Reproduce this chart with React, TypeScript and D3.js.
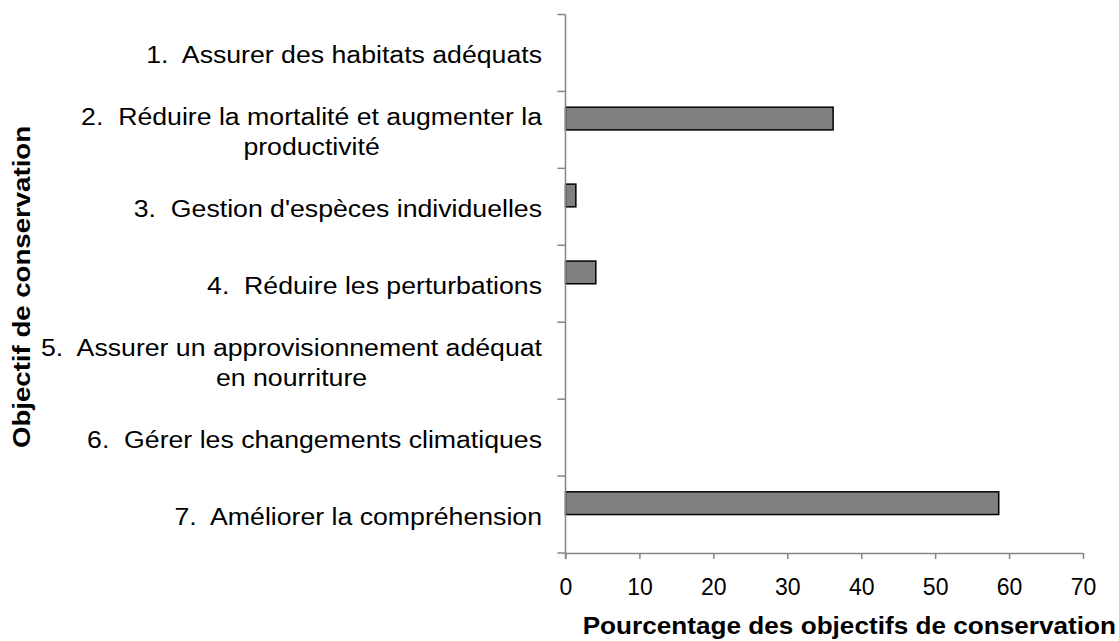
import { useEffect, useRef } from "react";
import * as d3 from "d3";

// objectives (each entry = wrapped lines of the label)
const categories: string[][] = [
  ["1.  Assurer des habitats adéquats"],
  ["2.  Réduire la mortalité et augmenter la", "productivité"],
  ["3.  Gestion d'espèces individuelles"],
  ["4.  Réduire les perturbations"],
  ["5.  Assurer un approvisionnement adéquat", "en nourriture"],
  ["6.  Gérer les changements climatiques"],
  ["7.  Améliorer la compréhension"],
];
const values = [0, 36.2, 1.4, 4.1, 0, 0, 58.6];
const xTicks = [0, 10, 20, 30, 40, 50, 60, 70];

const W = 1119;
const H = 641;
const FONT = "'Liberation Sans', Arial, sans-serif";

export default function App() {
  const ref = useRef<SVGSVGElement>(null);

  useEffect(() => {
    const svg = d3.select(ref.current);
    svg.selectAll("*").remove();

    const left = 565.5;
    const right = 1083;
    const top = 14.5;
    const bottom = 553;

    const x = d3.scaleLinear().domain([0, 70]).range([left, right]);
    const y = d3
      .scaleBand<number>()
      .domain(d3.range(categories.length))
      .range([top, bottom])
      .padding(0);
    const bw = y.bandwidth();

    const axisColor = "#868686";

    // bars
    svg
      .selectAll(".bar")
      .data(values.map((v, i) => ({ v, i })).filter((d) => d.v > 0))
      .enter()
      .append("rect")
      .attr("x", x(0))
      .attr("y", (d) => y(d.i)! + bw * 0.205)
      .attr("width", (d) => x(d.v) - x(0))
      .attr("height", bw * 0.295)
      .attr("fill", "#808080")
      .attr("stroke", "#000")
      .attr("stroke-width", 1.5);

    // y axis line + ticks at band boundaries
    svg
      .append("line")
      .attr("x1", left)
      .attr("x2", left)
      .attr("y1", top)
      .attr("y2", bottom + 6)
      .attr("stroke", axisColor)
      .attr("stroke-width", 1.5);
    const bounds = d3.range(categories.length + 1).map((i) => top + i * bw);
    svg
      .selectAll(".ytick")
      .data(bounds)
      .enter()
      .append("line")
      .attr("x1", left - 8)
      .attr("x2", left)
      .attr("y1", (d) => d)
      .attr("y2", (d) => d)
      .attr("stroke", axisColor)
      .attr("stroke-width", 1.5);

    // x axis
    const xAxis = svg
      .append("g")
      .attr("transform", `translate(0,${bottom})`)
      .call(
        d3
          .axisBottom(x)
          .tickValues(xTicks)
          .tickSize(6)
          .tickSizeOuter(0)
          .tickPadding(20)
      );
    xAxis.select(".domain").attr("stroke", axisColor).attr("stroke-width", 1.5);
    xAxis.selectAll(".tick line").attr("stroke", axisColor).attr("stroke-width", 1.5);
    xAxis
      .selectAll("text")
      .attr("fill", "#000")
      .style("font-family", FONT)
      .style("font-size", "23px");

    // category labels: wrapped, centered block, right edge aligned
    const labelRight = 542;
    const lineH = 30;
    const stretch = 1.16;
    categories.forEach((lines, i) => {
      const g = svg
        .append("g")
        .attr("transform", `translate(${labelRight},0) scale(${stretch},1)`);
      const cy = y(i)! + bw / 2 + 2;
      const texts = lines.map((l, j) =>
        g
          .append("text")
          .attr("y", cy + (j - (lines.length - 1) / 2) * lineH)
          .attr("dy", "0.35em")
          .attr("text-anchor", "middle")
          .style("white-space", "pre")
          .style("font-family", FONT)
          .style("font-size", "23px")
          .attr("fill", "#000")
          .text(l)
      );
      const maxW =
        d3.max(texts, (t) => (t.node() as SVGTextElement).getComputedTextLength()) ?? 0;
      texts.forEach((t) => t.attr("x", -maxW / 2));
    });

    // axis titles
    svg
      .append("text")
      .attr("transform", `translate(1116,626) scale(1.09,1)`)
      .attr("dy", "0.35em")
      .attr("text-anchor", "end")
      .style("font-family", FONT)
      .style("font-size", "24px")
      .style("font-weight", "bold")
      .attr("fill", "#000")
      .text("Pourcentage des objectifs de conservation");

    svg
      .append("text")
      .attr("transform", `translate(22,287) rotate(-90) scale(1.15,1)`)
      .attr("dy", "0.35em")
      .attr("text-anchor", "middle")
      .style("font-family", FONT)
      .style("font-size", "24px")
      .style("font-weight", "bold")
      .attr("fill", "#000")
      .text("Objectif de conservation");
  }, []);

  return (
    <svg
      ref={ref}
      width={W}
      height={H}
      style={{ position: "absolute", left: 0, top: 0, background: "#fff" }}
    />
  );
}
